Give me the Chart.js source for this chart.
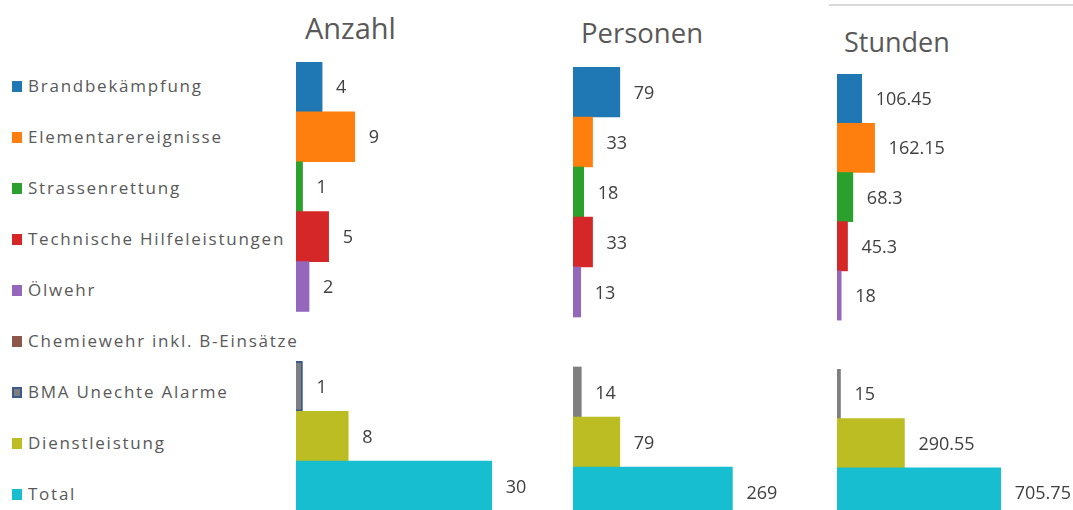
<!DOCTYPE html>
<html lang="de">
<head>
    <meta charset="UTF-8">
    <title>Einsätze</title>
    <script src="https://cdn.jsdelivr.net/npm/chart.js"></script>
    <style>
        body {
            margin: 0;
            width: 1073px;
            height: 510px;
            overflow: hidden;
            background: white;
            font-family: "Open Sans", sans-serif;
            position: relative;
        }
        .title {
            position: absolute;
            color: #595959;
            line-height: 1;
            white-space: nowrap;
        }
        .legend-row {
            position: absolute;
            left: 12px;
            height: 40px;
            display: flex;
            align-items: center;
            color: #595959;
            font-size: 17px;
            letter-spacing: 1.75px;
            white-space: nowrap;
        }
        .legend-row span.box {
            width: 10px;
            height: 11px;
            margin-right: 6px;
            margin-top: 2px;
            box-sizing: border-box;
        }
        canvas {
            position: absolute;
            top: 0;
        }
        #topLine {
            position: absolute;
            left: 829px;
            top: 4px;
            width: 244px;
            height: 2px;
            background: #d9d9d9;
        }
    </style>
</head>
<body>
    <div id="topLine"></div>
    <div class="title" style="left:305px; top:13px; font-size:29px;">Anzahl</div>
    <div class="title" style="left:581px; top:19px; font-size:27.5px;">Personen</div>
    <div class="title" style="left:844px; top:28px; font-size:27px;">Stunden</div>
    <div id="legend"></div>

    <canvas id="anzahlChart" width="341" height="520" style="left:296px"></canvas>
    <canvas id="personenChart" width="317" height="520" style="left:573px"></canvas>
    <canvas id="stundenChart" width="312" height="520" style="left:837px"></canvas>

    <script>
        const categories = [
            'Brandbekämpfung',
            'Elementarereignisse',
            'Strassenrettung',
            'Technische Hilfeleistungen',
            'Ölwehr',
            'Chemiewehr inkl. B-Einsätze',
            'BMA Unechte Alarme',
            'Dienstleistung',
            'Total'
        ];
        const anzahl = [4, 9, 1, 5, 2, null, 1, 8, 30];
        const personen = [79, 33, 18, 33, 13, null, 14, 79, 269];
        const stunden = [106.45, 162.15, 68.3, 45.3, 18, null, 15, 290.55, 705.75];

        const colors = ['#1f77b4', '#ff7f0e', '#2ca02c', '#d62728', '#9467bd',
                        '#8c564b', '#7f7f7f', '#bcbd22', '#17becf'];

        // legend on the left
        const legend = document.getElementById('legend');
        categories.forEach((cat, i) => {
            const row = document.createElement('div');
            row.className = 'legend-row';
            row.style.top = (65 + i * 51.1) + 'px';
            const box = document.createElement('span');
            box.className = 'box';
            box.style.background = colors[i];
            if (i === 6) box.style.border = '2px solid #3c5a8c';
            const label = document.createElement('span');
            label.textContent = cat;
            row.appendChild(box);
            row.appendChild(label);
            legend.appendChild(row);
        });

        // value labels to the right of each bar
        const valueLabels = {
            id: 'valueLabels',
            afterDatasetsDraw(chart) {
                const ctx = chart.ctx;
                const ds = chart.data.datasets[0];
                ctx.save();
                ctx.font = '18px "Open Sans"';
                ctx.fillStyle = '#404040';
                ctx.textBaseline = 'alphabetic';
                chart.getDatasetMeta(0).data.forEach((bar, i) => {
                    const v = ds.data[i];
                    if (v === null) return;
                    ctx.fillText(String(v), bar.x + 14, bar.y + 6.5);
                });
                ctx.restore();
            }
        };

        function makePanel(id, values, max, top, bottom, borders) {
            return new Chart(document.getElementById(id), {
                type: 'bar',
                data: {
                    labels: categories,
                    datasets: [{
                        data: values,
                        backgroundColor: colors,
                        borderColor: borders || colors,
                        borderWidth: borders ? categories.map((c, i) => i === 6 ? 2 : 0) : 0,
                        barPercentage: 1,
                        categoryPercentage: 1
                    }]
                },
                options: {
                    indexAxis: 'y',
                    responsive: false,
                    animation: false,
                    layout: { padding: { top: top, bottom: bottom, left: 0, right: 80 } },
                    plugins: {
                        legend: { display: false },
                        tooltip: { enabled: false }
                    },
                    scales: {
                        x: { display: false, min: 0, max: max },
                        y: { display: false }
                    }
                },
                plugins: [valueLabels]
            });
        }

        const anzahlBorders = colors.map((c, i) => i === 6 ? '#3c5a8c' : c);
        makePanel('anzahlChart', anzahl, 40, 62, 9, anzahlBorders);
        makePanel('personenChart', personen, 400, 67, 3);
        makePanel('stundenChart', stunden, 1000, 74, 3);
    </script>
</body>
</html>
